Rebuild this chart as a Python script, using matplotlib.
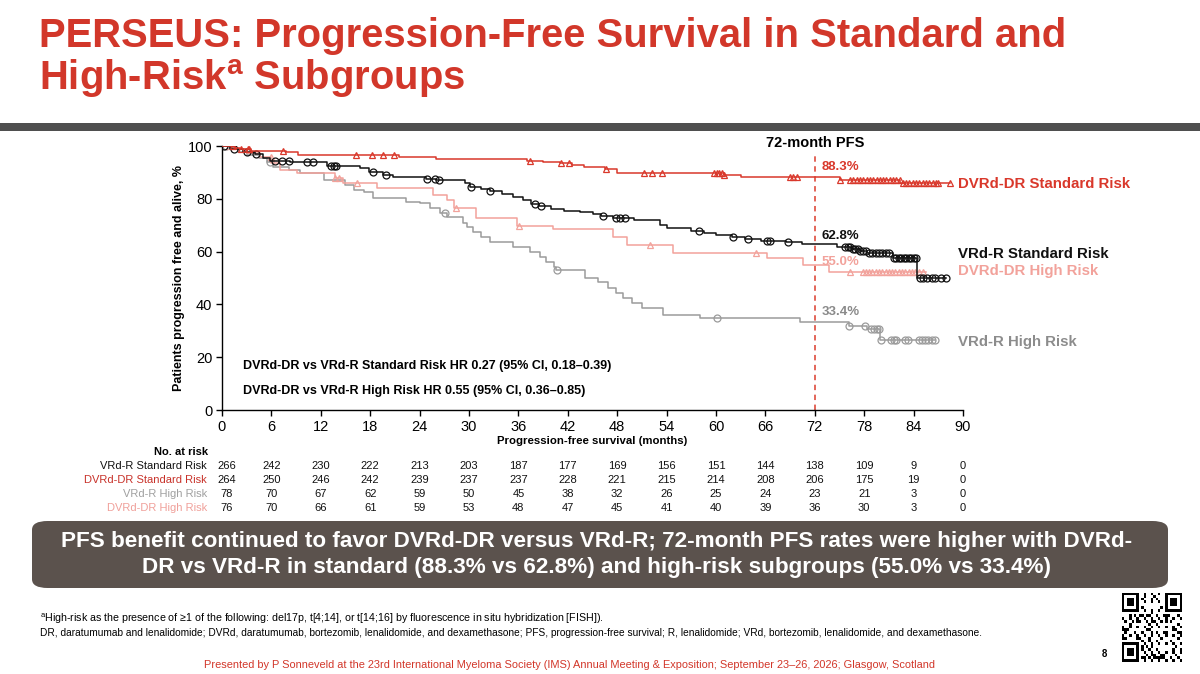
import numpy as np
import matplotlib
matplotlib.use("Agg")
import matplotlib.pyplot as plt
from matplotlib.patches import Rectangle, FancyBboxPatch
from matplotlib.transforms import blended_transform_factory

plt.rcParams['font.family'] = ['Liberation Sans', 'DejaVu Sans']
plt.rcParams['mathtext.fontset'] = 'custom'
plt.rcParams['mathtext.rm'] = 'Liberation Sans'
plt.rcParams['mathtext.bf'] = 'Liberation Sans:bold'

# ---- data (months, % progression free) ----
vrdr_std_t = [0, 1.0, 2.5, 4.0, 5.0, 5.8, 8.3, 12.8, 16.8, 17.8, 19.5, 20.8, 24.8, 26.0,
              29.5, 30.1, 31.5, 32.5, 34.0, 35.4, 36.5, 37.5, 38.5, 40.0, 41.5, 43.5, 45.0,
              46.0, 47.5, 50.0, 53.2, 54.0, 57.0, 58.5, 60.0, 62.0, 63.5, 65.5, 68.5, 70.5,
              74.7, 76.5, 77.5, 78.3, 81.5, 84.4]
vrdr_std_s = [100, 98.7, 97.6, 97.0, 95.3, 94.3, 93.8, 92.5, 91.5, 90.0, 89.1, 88.4, 87.5, 87.1,
              86.0, 84.6, 83.6, 82.8, 81.8, 80.8, 79.5, 78.0, 77.1, 76.2, 75.5, 75.1, 74.2,
              73.5, 72.6, 72.0, 70.2, 68.8, 67.8, 67.2, 66.2, 65.7, 64.6, 64.0, 63.5, 62.8,
              61.9, 61.0, 60.3, 59.3, 57.5, 49.9]
vrdr_std_end = 87.9
vrdr_std_cens = [0.2, 1.4, 3.0, 4.1, 6.4, 7.3, 8.1, 10.3, 11.0, 13.2, 13.6, 13.9, 18.3, 19.9,
                 24.9, 25.9, 26.4, 30.2, 32.5, 38.0, 38.7, 46.3, 47.8, 48.4, 49.0, 57.9, 62.1,
                 63.9, 66.2, 66.6, 68.8, 75.7, 76.0, 76.3, 76.6, 76.9, 77.2, 77.5, 77.8, 78.2,
                 78.6, 79.0, 79.4, 79.8, 80.2, 80.6, 81.0, 81.6, 81.9, 82.2, 82.5, 82.8, 83.1,
                 83.4, 83.7, 84.0, 84.3, 84.8, 85.2, 85.6, 86.2, 86.6, 87.3, 87.9]

dvrd_std_t = [0, 1.5, 2.2, 3.5, 7.8, 9.2, 21.5, 26.0, 37.0, 39.0, 41.0, 42.5, 44.0, 46.5,
              48.0, 61.0, 63.0, 75.0, 82.4]
dvrd_std_s = [100, 99.2, 98.9, 98.2, 97.6, 96.6, 96.0, 95.0, 94.3, 93.8, 93.4, 92.8, 92.0, 91.2,
              89.6, 89.0, 88.3, 87.1, 85.9]
dvrd_std_end = 88.4
dvrd_std_cens = [1.3, 2.3, 3.1, 3.3, 7.4, 16.3, 18.2, 19.5, 20.9, 37.4, 41.2, 42.1, 46.7, 51.2,
                 52.2, 53.4, 59.7, 60.1, 60.4, 60.7, 61.0, 69.0, 69.4, 69.8, 75.1, 76.3, 76.7,
                 77.1, 77.5, 77.9, 78.3, 78.7, 79.1, 79.5, 79.9, 80.3, 80.7, 81.1, 81.5, 81.9,
                 82.3, 82.7, 83.1, 83.5, 83.9, 84.3, 84.7, 85.1, 85.5, 85.9, 86.3, 86.7, 87.0,
                 88.4]

vrdr_hr_t = [0, 1.0, 2.0, 3.0, 4.5, 5.5, 6.2, 8.1, 9.5, 12.4, 14.9, 16.0, 17.2, 18.4, 22.4,
             24.0, 25.3, 26.5, 27.3, 29.3, 29.7, 30.5, 31.4, 32.6, 35.4, 37.4, 38.6, 39.3,
             40.3, 40.6, 44.1, 45.7, 46.9, 47.8, 48.7, 49.8, 51.0, 53.6, 58.0, 70.2, 76.1,
             78.3, 79.9]
vrdr_hr_s = [100, 99.0, 97.8, 96.5, 95.5, 94.0, 92.2, 90.9, 89.9, 87.1, 85.2, 83.3, 82.7, 80.2,
             78.9, 78.3, 76.4, 74.7, 73.0, 71.0, 69.4, 67.5, 65.7, 63.8, 61.9, 60.0, 58.1,
             56.2, 54.3, 53.0, 49.9, 48.6, 46.4, 44.2, 42.3, 40.4, 38.5, 36.0, 35.0, 33.4,
             31.9, 30.7, 26.5]
vrdr_hr_end = 86.6
vrdr_hr_cens = [0.5, 5.8, 27.1, 40.7, 60.1, 76.1, 78.1, 78.8, 79.2, 79.5, 79.8, 80.0, 81.2,
                81.6, 81.9, 82.9, 83.3, 84.6, 85.0, 85.4, 85.8, 86.2, 86.6]

dvrd_hr_t = [0, 1.5, 3.0, 4.6, 6.0, 7.0, 9.1, 13.7, 14.7, 18.8, 25.6, 27.3, 28.2, 30.9, 35.8,
             40.2, 47.5, 49.2, 54.8, 66.2, 70.6, 73.7]
dvrd_hr_s = [100, 99.0, 97.5, 96.0, 93.4, 90.9, 89.6, 88.0, 85.9, 84.0, 81.4, 79.5, 76.4, 72.6,
             69.7, 68.4, 65.7, 62.5, 59.3, 57.5, 55.0, 52.4]
dvrd_hr_end = 85.5
dvrd_hr_cens = [0.8, 5.9, 13.7, 14.2, 16.4, 28.4, 36.1, 52.0, 64.8, 76.3, 77.8, 78.2, 78.6,
                79.0, 79.4, 79.8, 80.2, 80.6, 81.0, 81.4, 81.8, 82.2, 82.6, 83.0, 83.4, 83.8,
                84.2, 84.6, 85.1]

# ---- number at risk ----
risk_months = [0, 6, 12, 18, 24, 30, 36, 42, 48, 54, 60, 66, 72, 78, 84, 90]
risk_labels = ['VRd-R Standard Risk', 'DVRd-DR Standard Risk', 'VRd-R High Risk', 'DVRd-DR High Risk']
risk_vrdr_std = [266, 242, 230, 222, 213, 203, 187, 177, 169, 156, 151, 144, 138, 109, 9, 0]
risk_dvrd_std = [264, 250, 246, 242, 239, 237, 237, 228, 221, 215, 214, 208, 206, 175, 19, 0]
risk_vrdr_hr = [78, 70, 67, 62, 59, 50, 45, 38, 32, 26, 25, 24, 23, 21, 3, 0]
risk_dvrd_hr = [76, 70, 66, 61, 59, 53, 48, 47, 45, 41, 40, 39, 36, 30, 3, 0]

pfs72_labels = ['88.3%', '62.8%', '55.0%', '33.4%']
pfs72_values = [88.3, 62.8, 55.0, 33.4]

RED = '#D9382B'
BLACK = '#111111'
GRAY = '#9b9b9b'
PINK = '#F2A29B'
TITLE_RED = '#D2372A'

W, H = 1200, 674
fig = plt.figure(figsize=(12, 6.74), dpi=100)
fig.patch.set_facecolor('white')


def fx(x):
    return x / W


def fy(y):
    return 1 - y / H


ax = fig.add_axes([fx(222), fy(410), fx(963) - fx(222), fy(146) - fy(410)])


def km(t, s, end, cens, color, marker, lw=1.1, z=2):
    tt = list(t) + [end]
    ss = list(s) + [s[-1]]
    ax.step(tt, ss, where='post', color=color, lw=lw, zorder=z)
    idx = np.searchsorted(np.array(t), np.array(cens), side='right') - 1
    ax.plot(cens, np.array(s)[idx], linestyle='none', marker=marker, ms=5,
            mfc='none', mec=color, mew=0.9, zorder=z)


km(vrdr_hr_t, vrdr_hr_s, vrdr_hr_end, vrdr_hr_cens, GRAY, 'o')
km(dvrd_hr_t, dvrd_hr_s, dvrd_hr_end, dvrd_hr_cens, PINK, '^')
km(vrdr_std_t, vrdr_std_s, vrdr_std_end, vrdr_std_cens, BLACK, 'o', z=3)
km(dvrd_std_t, dvrd_std_s, dvrd_std_end, dvrd_std_cens, RED, '^', z=3)

ax.plot([72, 72], [0, 97], color='#E0594C', lw=1.3, ls=(0, (3, 2.5)), zorder=1)

ax.set_xlim(0, 90)
ax.set_ylim(0, 100)
ax.set_xticks(range(0, 91, 6))
ax.set_yticks(range(0, 101, 20))
ax.tick_params(labelsize=10.5, length=4, width=1, direction='out', pad=3)
for sp in ['top', 'right']:
    ax.spines[sp].set_visible(False)
ax.spines['left'].set_linewidth(1)
ax.spines['bottom'].set_linewidth(1)
ax.set_facecolor('none')
ax.set_xlabel('Progression-free survival (months)', fontsize=8.2, fontweight='bold', labelpad=2)
ax.set_ylabel('Patients progression free and alive, %', fontsize=9, fontweight='bold', labelpad=2)

ax.text(72, 101.3, '72-month PFS', ha='center', va='center', fontsize=10.5, fontweight='bold')
pct_colors = [RED, BLACK, PINK, '#8a8a8a']
pct_off = [3.7, 3.1, 1.1, 3.7]
for lab, c, yv, off in zip(pfs72_labels, pct_colors, pfs72_values, pct_off):
    ax.text(72.8, yv + off, lab, ha='left', va='center', fontsize=9.5, fontweight='bold', color=c)

ax.text(2.5, 16.7, 'DVRd-DR vs VRd-R Standard Risk HR 0.27 (95% CI, 0.18\u20130.39)',
        fontsize=9, fontweight='bold', va='center')
ax.text(2.5, 7.2, 'DVRd-DR vs VRd-R High Risk HR 0.55 (95% CI, 0.36\u20130.85)',
        fontsize=9, fontweight='bold', va='center')

# right-hand curve labels
fig.text(fx(958), fy(184), 'DVRd-DR Standard Risk', color=RED, fontsize=10.8, fontweight='bold', va='center')
fig.text(fx(958), fy(254), 'VRd-R Standard Risk', color=BLACK, fontsize=10.8, fontweight='bold', va='center')
fig.text(fx(958), fy(271), 'DVRd-DR High Risk', color=PINK, fontsize=10.8, fontweight='bold', va='center')
fig.text(fx(958), fy(342), 'VRd-R High Risk', color='#8c8c8c', fontsize=10.8, fontweight='bold', va='center')

# number at risk table
tr = blended_transform_factory(ax.transData, fig.transFigure)
fig.text(fx(208), fy(452), 'No. at risk', ha='right', va='center', fontsize=8, fontweight='bold')
row_y = [466, 480, 494, 508]
row_colors = [BLACK, '#C8322A', '#a0a0a0', '#F0A09A']
rows = [risk_vrdr_std, risk_dvrd_std, risk_vrdr_hr, risk_dvrd_hr]
for lab, c, yy, vals in zip(risk_labels, row_colors, row_y, rows):
    fig.text(fx(207), fy(yy), lab, ha='right', va='center', fontsize=8, color=c)
    for m, v in zip(risk_months, vals):
        ax.text(m + (0.6 if m == 0 else 0), fy(yy), str(v), transform=tr, ha='center',
                va='center', fontsize=8, color=BLACK)

# ---- slide furniture ----
fig.text(fx(39), fy(36), 'PERSEUS: Progression-Free Survival in Standard and',
         fontsize=28.8, fontweight='bold', color=TITLE_RED, va='center')
fig.text(fx(39), fy(79), r'High-Risk$^{\mathbf{a}}$ Subgroups',
         fontsize=28.8, fontweight='bold', color=TITLE_RED, va='center')
fig.add_artist(Rectangle((0, fy(131)), 1, fy(123) - fy(131), transform=fig.transFigure,
                         color='#4f4f4f', lw=0))

box = FancyBboxPatch((fx(32), fy(588)), fx(1168) - fx(32), fy(521) - fy(588),
                     boxstyle='round,pad=0,rounding_size=0.013', transform=fig.transFigure,
                     facecolor='#5b524d', edgecolor='none')
fig.add_artist(box)
fig.text(0.497, fy(542), 'PFS benefit continued to favor DVRd-DR versus VRd-R; 72-month PFS rates were higher with DVRd-',
         ha='center', va='center', fontsize=16.2, fontweight='bold', color='white')
fig.text(0.497, fy(568), 'DR vs VRd-R in standard (88.3% vs 62.8%) and high-risk subgroups (55.0% vs 33.4%)',
         ha='center', va='center', fontsize=16.2, fontweight='bold', color='white')

fig.text(fx(40), fy(619), r'$^{\mathregular{a}}$High-risk as the presence of ' + '\u2265' +
         '1 of the following: del17p, t[4;14], or t[14;16] by fluorescence in situ hybridization [FISH]).',
         fontsize=7.7, va='center')
fig.text(fx(40), fy(633), 'DR, daratumumab and lenalidomide; DVRd, daratumumab, bortezomib, lenalidomide, and dexamethasone; '
         'PFS, progression-free survival; R, lenalidomide; VRd, bortezomib, lenalidomide, and dexamethasone.',
         fontsize=7.3, va='center')
fig.text(fx(1104), fy(654), '8', fontsize=7, fontweight='bold', ha='center', va='center')
footer = ('Presented by P Sonneveld at the 23rd International Myeloma Society (IMS) Annual Meeting & '
          'Exposition; September 23\u201326, 2026; Glasgow, Scotland')
fig.text(fx(570), fy(665), footer, fontsize=7.9, color=TITLE_RED, ha='center', va='center')

# QR-like code block (decorative)
n = 25
qr = np.zeros((n, n))
bits = [ord(ch) for ch in footer * 6]
k = 0
for i in range(n):
    for j in range(n):
        qr[i, j] = (bits[k] * (i + 3) + j * 7) % 3 == 0
        k += 1
for (r0, c0) in [(0, 0), (0, n - 7), (n - 7, 0)]:
    qr[max(r0 - 1, 0):r0 + 8, max(c0 - 1, 0):c0 + 8] = 0
    qr[r0:r0 + 7, c0:c0 + 7] = 1
    qr[r0 + 1:r0 + 6, c0 + 1:c0 + 6] = 0
    qr[r0 + 2:r0 + 5, c0 + 2:c0 + 5] = 1
qax = fig.add_axes([fx(1122), fy(662), fx(1182) - fx(1122), fy(593) - fy(662)])
qax.imshow(qr, cmap='Greys', interpolation='nearest', aspect='auto')
qax.axis('off')

fig.savefig('out.png', dpi=100)
